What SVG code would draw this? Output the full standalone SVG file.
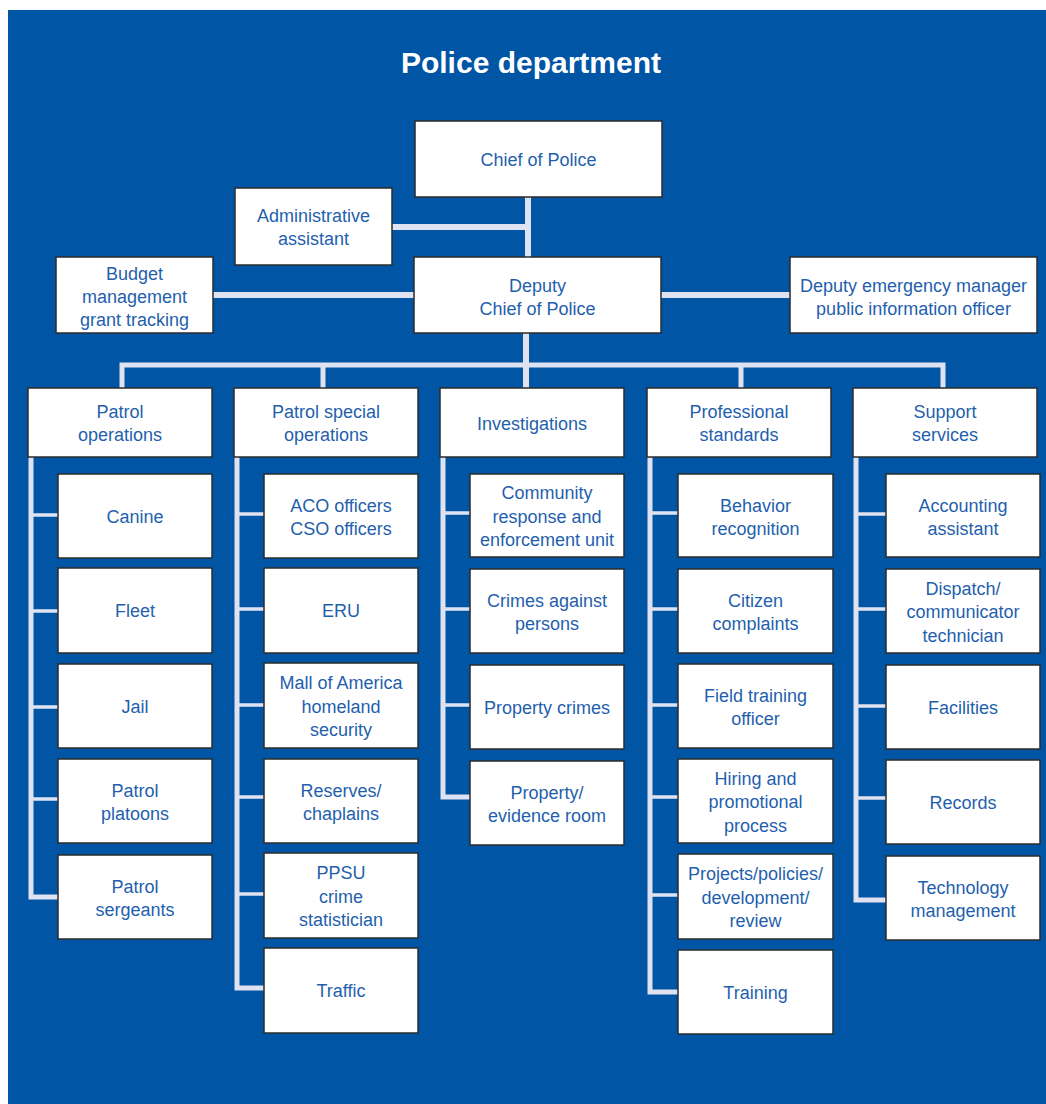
<svg xmlns="http://www.w3.org/2000/svg" width="1046" height="1104" viewBox="0 0 1046 1104">
<style>
.bg{fill:#0055a4}
.box{fill:#ffffff;stroke:#2b2b2b;stroke-width:1.5}
.t{font-family:"Liberation Sans",Arial,sans-serif;font-size:18px;fill:#1f5fae;text-anchor:middle}
.title{font-family:"Liberation Sans",Arial,sans-serif;font-size:30px;font-weight:bold;fill:#ffffff;text-anchor:middle}
.c6{stroke:#dfe2f1;stroke-width:6;fill:none}
.c5{stroke:#dfe2f1;stroke-width:5;fill:none}
.c3{stroke:#dfe2f1;stroke-width:3.5;fill:none}
</style>
<rect class="bg" x="8" y="10" width="1038" height="1094"/>
<text class="title" x="531" y="73">Police department</text>
<g id="connectors">
<path class="c6" d="M528,197 V257"/>
<path class="c6" d="M392,227 H531"/>
<path class="c6" d="M213,295 H414 M661,295 H790"/>
<path class="c6" d="M526,333 V388"/>
<path class="c5" d="M122,388 V365 H943 V388 M323,365 V388 M741,365 V388"/>
<path class="c5" d="M31,457 V897 H58"/>
<path class="c3" d="M31,515 H58 M31,611 H58 M31,707 H58 M31,799 H58"/>
<path class="c5" d="M237,457 V988 H264"/>
<path class="c3" d="M237,514 H264 M237,609 H264 M237,705 H264 M237,797 H264 M237,894 H264"/>
<path class="c5" d="M443,457 V797 H470"/>
<path class="c3" d="M443,513 H470 M443,609 H470 M443,705 H470"/>
<path class="c5" d="M650,457 V992 H678"/>
<path class="c3" d="M650,513 H678 M650,609 H678 M650,705 H678 M650,797 H678 M650,895 H678"/>
<path class="c5" d="M856,457 V900 H886"/>
<path class="c3" d="M856,514 H886 M856,609 H886 M856,706 H886 M856,798 H886"/>
</g>
<g id="chief"><rect class="box" x="415" y="121" width="247" height="76"/><text class="t" x="538.5" y="165.5">Chief of Police</text></g>
<g id="admin"><rect class="box" x="235" y="188" width="157" height="77"/><text class="t" x="313.5" y="222">Administrative</text><text class="t" x="313.5" y="245">assistant</text></g>
<g id="budget"><rect class="box" x="56" y="257" width="157" height="76"/><text class="t" x="134.5" y="280">Budget</text><text class="t" x="134.5" y="303">management</text><text class="t" x="134.5" y="326">grant tracking</text></g>
<g id="deputy"><rect class="box" x="414" y="257" width="247" height="76"/><text class="t" x="537.5" y="292">Deputy</text><text class="t" x="537.5" y="315">Chief of Police</text></g>
<g id="emergency"><rect class="box" x="790" y="257" width="247" height="76"/><text class="t" x="913.5" y="292">Deputy emergency manager</text><text class="t" x="913.5" y="315">public information officer</text></g>

<g id="patrol-ops"><rect class="box" x="28" y="388" width="184" height="69"/><text class="t" x="120" y="418">Patrol</text><text class="t" x="120" y="441">operations</text></g>
<g id="patrol-special"><rect class="box" x="234" y="388" width="184" height="69"/><text class="t" x="326" y="418">Patrol special</text><text class="t" x="326" y="441">operations</text></g>
<g id="investigations"><rect class="box" x="440" y="388" width="184" height="69"/><text class="t" x="532" y="429.5">Investigations</text></g>
<g id="professional"><rect class="box" x="647" y="388" width="184" height="69"/><text class="t" x="739" y="418">Professional</text><text class="t" x="739" y="441">standards</text></g>
<g id="support"><rect class="box" x="853" y="388" width="184" height="69"/><text class="t" x="945" y="418">Support</text><text class="t" x="945" y="441">services</text></g>

<g id="canine"><rect class="box" x="58" y="474" width="154" height="84"/><text class="t" x="135" y="522.5">Canine</text></g>
<g id="fleet"><rect class="box" x="58" y="568" width="154" height="85"/><text class="t" x="135" y="617">Fleet</text></g>
<g id="jail"><rect class="box" x="58" y="664" width="154" height="84"/><text class="t" x="135" y="712.5">Jail</text></g>
<g id="platoons"><rect class="box" x="58" y="759" width="154" height="84"/><text class="t" x="135" y="797">Patrol</text><text class="t" x="135" y="820">platoons</text></g>
<g id="sergeants"><rect class="box" x="58" y="855" width="154" height="84"/><text class="t" x="135" y="893">Patrol</text><text class="t" x="135" y="916">sergeants</text></g>

<g id="aco"><rect class="box" x="264" y="474" width="154" height="84"/><text class="t" x="341" y="512">ACO officers</text><text class="t" x="341" y="535">CSO officers</text></g>
<g id="eru"><rect class="box" x="264" y="568" width="154" height="85"/><text class="t" x="341" y="617">ERU</text></g>
<g id="mall"><rect class="box" x="264" y="663" width="154" height="85"/><text class="t" x="341" y="689">Mall of America</text><text class="t" x="341" y="712.5">homeland</text><text class="t" x="341" y="736">security</text></g>
<g id="reserves"><rect class="box" x="264" y="759" width="154" height="84"/><text class="t" x="341" y="797">Reserves/</text><text class="t" x="341" y="820">chaplains</text></g>
<g id="ppsu"><rect class="box" x="264" y="853" width="154" height="85"/><text class="t" x="341" y="879">PPSU</text><text class="t" x="341" y="902.5">crime</text><text class="t" x="341" y="926">statistician</text></g>
<g id="traffic"><rect class="box" x="264" y="948" width="154" height="85"/><text class="t" x="341" y="997">Traffic</text></g>

<g id="community"><rect class="box" x="470" y="474" width="154" height="83"/><text class="t" x="547" y="499">Community</text><text class="t" x="547" y="522.5">response and</text><text class="t" x="547" y="546">enforcement unit</text></g>
<g id="crimes-persons"><rect class="box" x="470" y="569" width="154" height="84"/><text class="t" x="547" y="607">Crimes against</text><text class="t" x="547" y="630">persons</text></g>
<g id="property-crimes"><rect class="box" x="470" y="665" width="154" height="84"/><text class="t" x="547" y="713.5">Property crimes</text></g>
<g id="evidence"><rect class="box" x="470" y="761" width="154" height="84"/><text class="t" x="547" y="799">Property/</text><text class="t" x="547" y="822">evidence room</text></g>

<g id="behavior"><rect class="box" x="678" y="474" width="155" height="83"/><text class="t" x="755.5" y="511.5">Behavior</text><text class="t" x="755.5" y="534.5">recognition</text></g>
<g id="citizen"><rect class="box" x="678" y="569" width="155" height="84"/><text class="t" x="755.5" y="607">Citizen</text><text class="t" x="755.5" y="630">complaints</text></g>
<g id="field"><rect class="box" x="678" y="664" width="155" height="84"/><text class="t" x="755.5" y="702">Field training</text><text class="t" x="755.5" y="725">officer</text></g>
<g id="hiring"><rect class="box" x="678" y="759" width="155" height="84"/><text class="t" x="755.5" y="784.5">Hiring and</text><text class="t" x="755.5" y="808">promotional</text><text class="t" x="755.5" y="831.5">process</text></g>
<g id="projects"><rect class="box" x="678" y="854" width="155" height="85"/><text class="t" x="755.5" y="880">Projects/policies/</text><text class="t" x="755.5" y="903.5">development/</text><text class="t" x="755.5" y="927">review</text></g>
<g id="training"><rect class="box" x="678" y="950" width="155" height="84"/><text class="t" x="755.5" y="998.5">Training</text></g>

<g id="accounting"><rect class="box" x="886" y="474" width="154" height="83"/><text class="t" x="963" y="511.5">Accounting</text><text class="t" x="963" y="534.5">assistant</text></g>
<g id="dispatch"><rect class="box" x="886" y="569" width="154" height="84"/><text class="t" x="963" y="594.5">Dispatch/</text><text class="t" x="963" y="618">communicator</text><text class="t" x="963" y="641.5">technician</text></g>
<g id="facilities"><rect class="box" x="886" y="665" width="154" height="84"/><text class="t" x="963" y="713.5">Facilities</text></g>
<g id="records"><rect class="box" x="886" y="760" width="154" height="84"/><text class="t" x="963" y="808.5">Records</text></g>
<g id="technology"><rect class="box" x="886" y="856" width="154" height="84"/><text class="t" x="963" y="894">Technology</text><text class="t" x="963" y="917">management</text></g>
</svg>
